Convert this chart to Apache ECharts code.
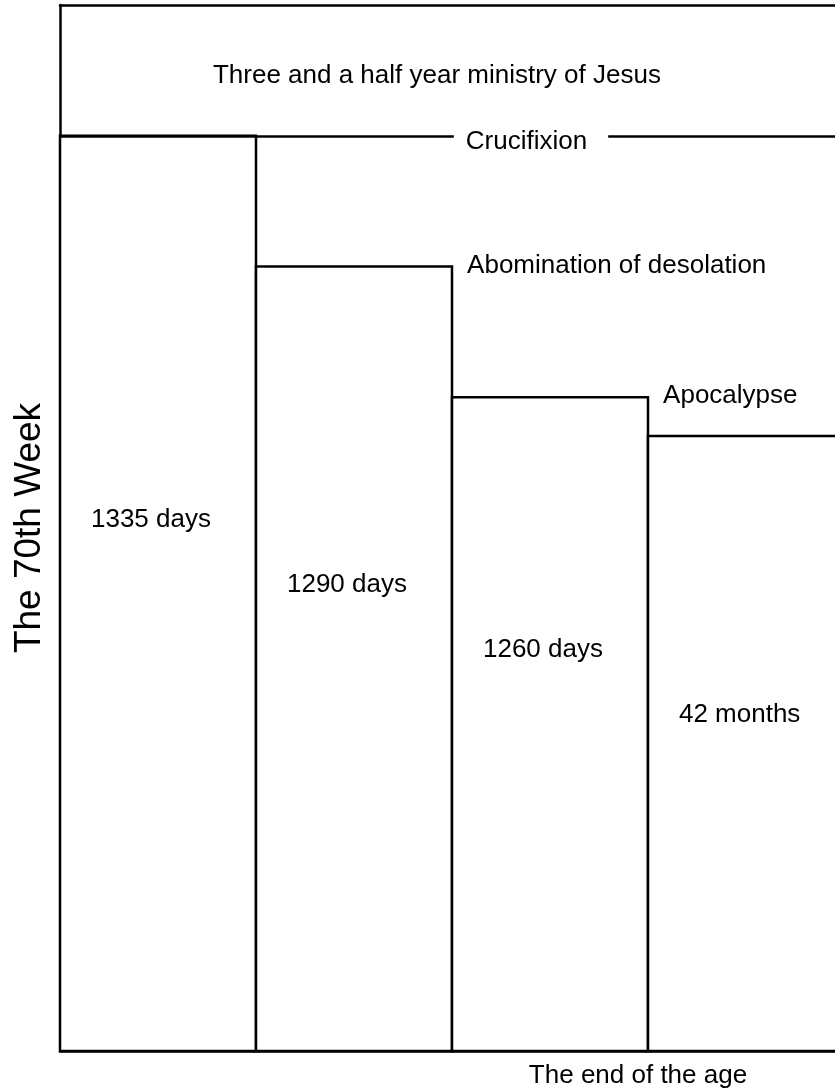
<!DOCTYPE html>
<html><head><meta charset="utf-8">
<script src="https://cdn.jsdelivr.net/npm/echarts@6/dist/echarts.min.js"></script>
<style>html,body{margin:0;padding:0;background:#fff}#c{width:835px;height:1091px}</style>
</head><body><div id="c"></div>
<script>
// ---- data ----
const categories = ['1335 days', '1290 days', '1260 days', '42 months'];
const barTops = [87.5, 75, 62.5, 58.8];          // share of the 70th week (top of chart = 100)
const yMax = 100;
const topEvent = 'Crucifixion';
const barEvents = ['', 'Abomination of desolation', 'Apocalypse', ''];
const ministryText = 'Three and a half year ministry of Jesus';
const yTitle = 'The 70th Week';
const xTitle = 'The end of the age';

// ---- layout (not data) ----
const labelLevels = [50.8, 44.6, 38.4, 32.1];
const LABEL_INSET = 0.158;
const EVENT_GAP = 0.077;
const ministryPos = [1.923, 93.2];

const FONT = '"Liberation Sans", Arial, sans-serif';
const INK = '#000';
const LW = 2.5;

const chart = echarts.init(document.getElementById('c'), null, {renderer: 'canvas'});

const txt = (size) => ({color: INK, fontFamily: FONT, fontSize: size, opacity: 1});
const ghost = {color: 'rgba(0,0,0,0)', opacity: 1};

chart.setOption({
  animation: false,
  backgroundColor: '#fff',
  grid: {left: 60, top: 5, width: 784, bottom: 40, containLabel: false, outerBoundsMode: 'none'},
  xAxis: [
    {
      type: 'category', data: categories, position: 'bottom',
      axisLine: {show: true, lineStyle: {color: INK, width: LW}},
      axisTick: {show: false}, axisLabel: {show: false}, splitLine: {show: false},
      name: xTitle, nameLocation: 'middle', nameGap: 12,
      nameTextStyle: Object.assign(txt(26), {padding: [0, 0, 0, 372]})
    },
    {
      type: 'value', min: 0, max: categories.length, position: 'top',
      axisLine: {show: true, onZero: false, lineStyle: {color: INK, width: LW}},
      axisTick: {show: false}, axisLabel: {show: false}, splitLine: {show: false}
    }
  ],
  yAxis: {
    type: 'value', min: 0, max: yMax,
    axisLine: {show: true, onZero: false, lineStyle: {color: INK, width: LW}},
    axisTick: {show: false}, axisLabel: {show: false}, splitLine: {show: false},
    name: yTitle, nameLocation: 'middle', nameRotate: 90, nameGap: 12,
    nameTextStyle: txt(37)
  },
  series: [
    {
      // the four columns, drawn edge to edge on the shared value scale
      type: 'custom', xAxisIndex: 1, yAxisIndex: 0, silent: true, clip: false,
      data: barTops.map((v, i) => [i, v]),
      encode: {x: 0, y: 1},
      renderItem: (params, api) => {
        const i = api.value(0), v = api.value(1);
        const tl = api.coord([i, v]);
        const br = api.coord([i + 1, 0]);
        return {
          type: 'rect',
          shape: {x: tl[0], y: tl[1], width: br[0] - tl[0], height: br[1] - tl[1]},
          style: {fill: '#fff', stroke: INK, lineWidth: LW}
        };
      }
    },
    {
      // duration labels inside each column
      type: 'scatter', xAxisIndex: 1, silent: true, symbolSize: 1,
      itemStyle: ghost,
      data: categories.map((c, i) => ({value: [i + LABEL_INSET, labelLevels[i]], name: c})),
      label: {show: true, position: 'inside', align: 'left', verticalAlign: 'middle',
        formatter: p => p.name, ...txt(26)},
      markLine: {
        silent: true, symbol: ['none', 'none'],
        lineStyle: {color: INK, width: LW, type: 'solid', opacity: 1},
        label: {show: true, position: 'middle', formatter: topEvent,
          backgroundColor: '#fff', padding: [4, 21, 4, 12], offset: [79, 28], ...txt(26)},
        data: [{yAxis: barTops[0]}]
      }
    },
    {
      // event labels at the top-right corner of the columns
      type: 'scatter', xAxisIndex: 1, silent: true, symbolSize: 1,
      itemStyle: ghost,
      data: barEvents.map((e, i) => e ? {value: [i + 1 + EVENT_GAP, barTops[i]], name: e} : null)
        .filter(d => d),
      label: {show: true, position: 'inside', align: 'left', verticalAlign: 'middle',
        offset: [0, -1], formatter: p => p.name, ...txt(26)}
    },
    {
      // ministry caption in the top band
      type: 'scatter', xAxisIndex: 1, silent: true, symbolSize: 1,
      itemStyle: ghost,
      data: [{value: ministryPos, name: ministryText}],
      label: {show: true, position: 'inside', align: 'center', verticalAlign: 'middle',
        formatter: p => p.name, ...txt(26)}
    }
  ]
});
</script></body></html>
